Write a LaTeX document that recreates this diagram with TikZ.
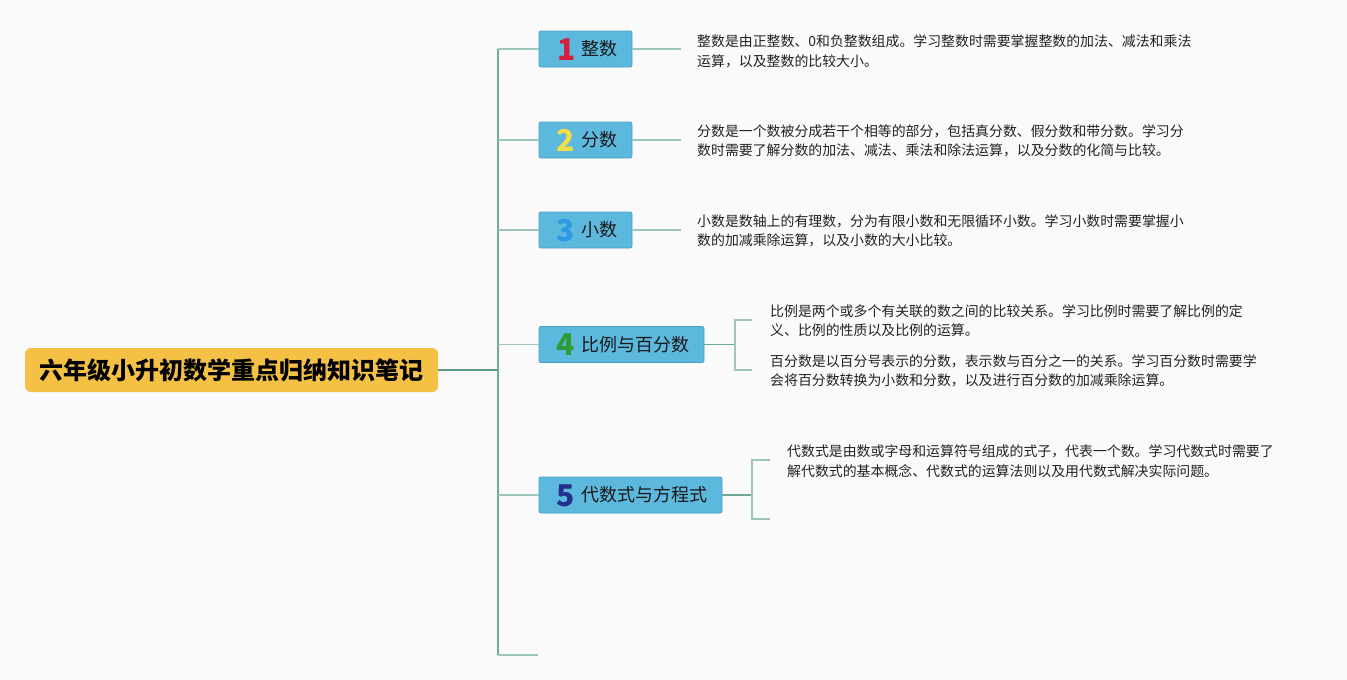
\documentclass[tikz,border=0pt]{standalone}
\usepackage{fontspec}
\setmainfont{Noto Sans CJK SC}
\newfontfamily\cjk{Noto Sans CJK SC}
\definecolor{bgc}{HTML}{FAFAFA}
\definecolor{rootc}{HTML}{F4C144}
\definecolor{boxc}{HTML}{5DB8DE}
\definecolor{boxd}{HTML}{4A9FC2}
\definecolor{trunkc}{HTML}{6FA898}
\definecolor{rootl}{HTML}{5E9887}
\definecolor{brc}{HTML}{9CC6BA}
\definecolor{txt}{HTML}{222222}
\definecolor{n1}{HTML}{D6203A}
\definecolor{n2}{HTML}{F2DE48}
\definecolor{n3}{HTML}{2A9BE0}
\definecolor{n4}{HTML}{2C9E35}
\definecolor{n5}{HTML}{23318C}
\begin{document}
\begin{tikzpicture}[x=1pt,y=-1pt,
  rootbox/.style={fill=rootc, rounded corners=6pt, minimum width=413pt, minimum height=44pt, inner sep=0pt,
    font=\cjk\bfseries\fontsize{24}{28}\selectfont, text=black},
  topic/.style={fill=boxc, draw=boxd, line width=0.8pt, rounded corners=2pt, minimum height=36pt, inner sep=0pt},
  num/.style={font=\cjk\bfseries\fontsize{30}{32}\selectfont, inner sep=0pt},
  lab/.style={font=\cjk\fontsize{18}{20}\selectfont, anchor=west, inner sep=0pt, text=black!90},
  desc/.style={font=\cjk\fontsize{13.9}{19.5}\selectfont, align=left, anchor=west, inner sep=0pt, text=txt},
  trunk/.style={draw=trunkc, line width=1.6pt},
  branch/.style={draw=brc, line width=1.4pt},
]
\useasboundingbox (0,0) rectangle (1347,680);
\fill[bgc] (0,0) rectangle (1347,680);

% root
\node[rootbox] (root) at (231.5,370) {六年级小升初数学重点归纳知识笔记};

% topic boxes
\node[topic, minimum width=93pt] (b1) at (585.5,49) {};
\node[topic, minimum width=93pt] (b2) at (585.5,140) {};
\node[topic, minimum width=93pt] (b3) at (585.5,230) {};
\node[topic, minimum width=165pt] (b4) at (621.5,344.5) {};
\node[topic, minimum width=183pt] (b5) at (630.5,495) {};

\node[num, text=n1] (d1) at (567,49.5) {1};
\node[num, text=n2] (d2) at (566,140.5) {2};
\node[num, text=n3] (d3) at (566,230.5) {3};
\node[num, text=n4] (d4) at (566,345) {4};
\node[num, text=n5] (d5) at (566,495.5) {5};

\node[lab] (l1) at (581,49) {整数};
\node[lab] (l2) at (581,140) {分数};
\node[lab] (l3) at (581,230) {小数};
\node[lab] (l4) at (581,344.5) {比例与百分数};
\node[lab] (l5) at (581,495) {代数式与方程式};

% trunk
\coordinate (tj) at (498,370);
\coordinate (ttop) at (498,49);
\coordinate (tbot) at (498,655);
\coordinate (tend) at (538,655);
\draw[draw=rootl, line width=1.6pt] (root.east) -- (tj);
\draw[trunk] (ttop) -- (tbot);
\draw[branch] (ttop) -- (b1.west);
\draw[branch] (498,140) -- (b2.west);
\draw[branch] (498,230) -- (b3.west);
\draw[branch] (498,344.5) -- (b4.west);
\draw[branch] (498,495) -- (b5.west);
\draw[branch] (tbot) -- (tend);

% descriptions
\node[desc] (t1) at (697,51.5) {整数是由正整数、0和负整数组成。学习整数时需要掌握整数的加法、减法和乘法\\运算，以及整数的比较大小。};
\node[desc] (t2) at (697,141) {分数是一个数被分成若干个相等的部分，包括真分数、假分数和带分数。学习分\\数时需要了解分数的加法、减法、乘法和除法运算，以及分数的化简与比较。};
\node[desc] (t3) at (697,231) {小数是数轴上的有理数，分为有限小数和无限循环小数。学习小数时需要掌握小\\数的加减乘除运算，以及小数的大小比较。};
\node[desc] (t4a) at (770,320.5) {比例是两个或多个有关联的数之间的比较关系。学习比例时需要了解比例的定\\义、比例的性质以及比例的运算。};
\node[desc] (t4b) at (770,371) {百分数是以百分号表示的分数，表示数与百分之一的关系。学习百分数时需要学\\会将百分数转换为小数和分数，以及进行百分数的加减乘除运算。};
\node[desc] (t5) at (787,461) {代数式是由数或字母和运算符号组成的式子，代表一个数。学习代数式时需要了\\解代数式的基本概念、代数式的运算法则以及用代数式解决实际问题。};

% connectors topic -> description
\coordinate (e1) at (681,49);
\coordinate (e2) at (681,140);
\coordinate (e3) at (681,230);
\draw[branch] (b1.east) -- (e1);
\draw[branch] (b2.east) -- (e2);
\draw[branch] (b3.east) -- (e3);

\coordinate (k4) at (735,344.5);
\coordinate (k4a) at (752,320);
\coordinate (k4b) at (752,370);
\draw[draw=trunkc, line width=1.4pt] (b4.east) -- (k4);
\draw[branch] (k4a) -- (735,320) -- (735,370) -- (k4b);

\coordinate (k5) at (752,495);
\coordinate (k5a) at (770,460);
\coordinate (k5b) at (770,519);
\draw[draw=trunkc, line width=1.4pt] (b5.east) -- (k5);
\draw[branch] (k5a) -- (752,460) -- (752,519) -- (k5b);
\end{tikzpicture}
\end{document}
